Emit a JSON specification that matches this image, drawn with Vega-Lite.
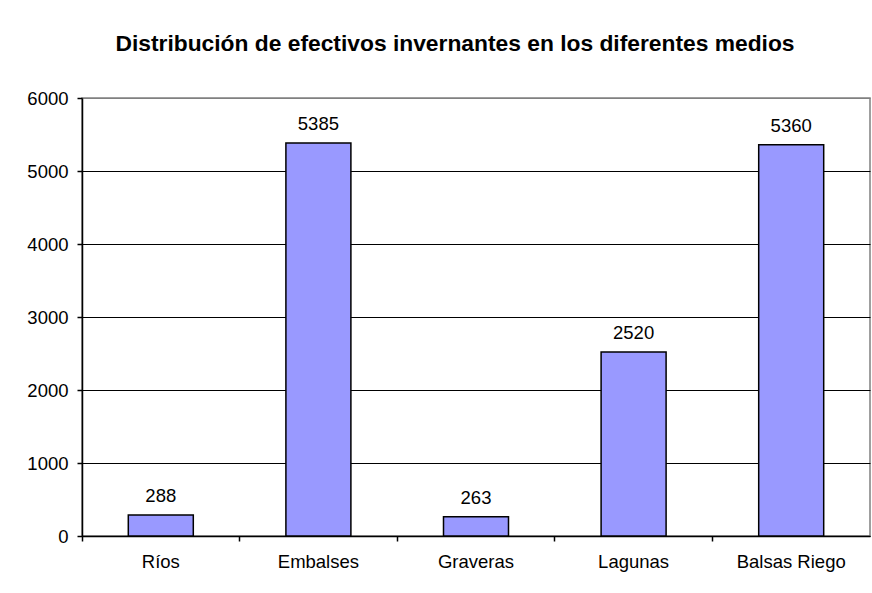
{
  "$schema": "https://vega.github.io/schema/vega-lite/v6.json",
  "width": 788,
  "height": 438,
  "padding": {"left": 26, "top": 33, "right": 3, "bottom": 10},
  "background": "white",
  "config": {
    "font": "Liberation Sans",
    "view": {"stroke": "#808080", "strokeWidth": 1.5}
  },
  "title": {
    "text": "Distribución de efectivos invernantes en los diferentes medios",
    "fontSize": 22.8,
    "fontWeight": "bold",
    "color": "black",
    "anchor": "middle",
    "offset": 33,
    "dx": -21
  },
  "data": {
    "values": [
      {"medio": "Ríos", "efectivos": 288},
      {"medio": "Embalses", "efectivos": 5385},
      {"medio": "Graveras", "efectivos": 263},
      {"medio": "Lagunas", "efectivos": 2520},
      {"medio": "Balsas Riego", "efectivos": 5360}
    ]
  },
  "encoding": {
    "x": {
      "field": "medio",
      "type": "nominal",
      "sort": null,
      "title": null,
      "scale": {"paddingInner": 0, "paddingOuter": 0},
      "axis": {
        "labelAngle": 0,
        "labelFontSize": 18.5,
        "labelColor": "black",
        "labelPadding": 11,
        "tickSize": 5,
        "tickColor": "black",
        "domainColor": "black",
        "domainWidth": 1.5,
        "tickWidth": 1.5,
        "bandPosition": 0,
        "grid": false
      }
    },
    "y": {
      "field": "efectivos",
      "type": "quantitative",
      "title": null,
      "scale": {"domain": [0, 6000]},
      "axis": {
        "values": [0, 1000, 2000, 3000, 4000, 5000, 6000],
        "labelFontSize": 18.5,
        "labelColor": "black",
        "labelPadding": 9,
        "tickSize": 5,
        "tickColor": "black",
        "tickWidth": 1.5,
        "domainColor": "black",
        "domainWidth": 1.5,
        "format": "d",
        "grid": true,
        "gridColor": {"condition": {"test": "datum.value === 6000", "value": "#808080"}, "value": "black"},
        "gridWidth": 1.2
      }
    }
  },
  "layer": [
    {
      "mark": {"type": "bar", "width": 65, "fill": "#9999FF", "stroke": "black", "strokeWidth": 1.5}
    },
    {
      "mark": {"type": "text", "baseline": "alphabetic", "dy": -13, "fontSize": 18.5, "color": "black"},
      "encoding": {"text": {"field": "efectivos", "type": "quantitative"}}
    }
  ]
}
